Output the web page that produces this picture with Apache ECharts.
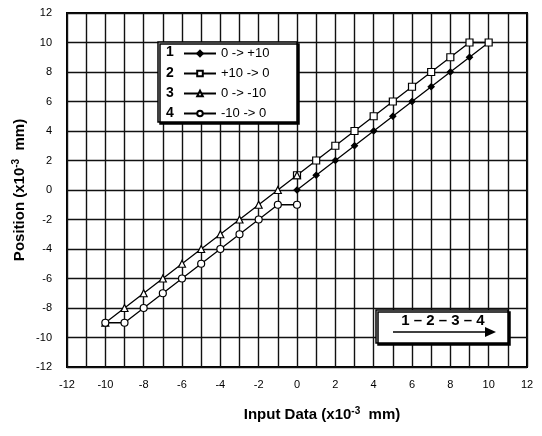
<!DOCTYPE html>
<html>
<head>
<meta charset="utf-8">
<script src="https://cdn.jsdelivr.net/npm/echarts@6/dist/echarts.min.js"></script>
<style>html,body{margin:0;padding:0;background:#fff}#c{width:542px;height:436px}</style>
</head>
<body>
<div id="c"></div>
<script>
// Data
const legendNames = ['0 -> +10', '+10 -> 0', '0 -> -10', '-10 -> 0'];
const s1 = [[0,0],[1,1],[2,2],[3,3],[4,4],[5,5],[6,6],[7,7],[8,8],[9,9],[10,10]];
const s2 = [[10,10],[9,10],[8,9],[7,8],[6,7],[5,6],[4,5],[3,4],[2,3],[1,2],[0,1]];
const s3 = [[0,1],[-1,0],[-2,-1],[-3,-2],[-4,-3],[-5,-4],[-6,-5],[-7,-6],[-8,-7],[-9,-8],[-10,-9]];
const s4 = [[-10,-9],[-9,-9],[-8,-8],[-7,-7],[-6,-6],[-5,-5],[-4,-4],[-3,-3],[-2,-2],[-1,-1],[0,-1]];
const axisMin = -12, axisMax = 12, axisStep = 2;

const FONT = "'Liberation Sans', Arial, sans-serif";
const chart = echarts.init(document.getElementById('c'), null, {renderer: 'canvas'});

function mk(name, data, symbol, size, filled) {
  return {
    name: name, type: 'line', data: data, symbol: symbol, symbolSize: size,
    showSymbol: true, animation: false, z: 6,
    lineStyle: {color: '#000', width: 1.3},
    itemStyle: {color: filled ? '#000' : '#fff', borderColor: '#000', borderWidth: 1.2}
  };
}

const gridLine = {show: true, lineStyle: {color: '#111', width: 1.4}};
const rowY = [52, 73, 93, 113];

chart.setOption({
  animation: false,
  backgroundColor: '#fff',
  grid: {left: 67, right: 15, top: 13, bottom: 69, show: true, borderColor: '#000', borderWidth: 2, backgroundColor: 'transparent'},
  xAxis: {
    type: 'value', min: axisMin, max: axisMax, interval: axisStep,
    axisLine: {show: false}, axisTick: {show: false},
    minorTick: {show: false, splitNumber: 2},
    minorSplitLine: {show: true, lineStyle: {color: '#111', width: 1.4}},
    splitLine: gridLine,
    axisLabel: {color: '#000', fontSize: 11, fontFamily: FONT, margin: 12}
  },
  yAxis: {
    type: 'value', min: axisMin, max: axisMax, interval: axisStep,
    axisLine: {show: false}, axisTick: {show: false},
    splitLine: gridLine,
    axisLabel: {color: '#000', fontSize: 11, fontFamily: FONT, margin: 15}
  },
  legend: {
    orient: 'vertical', left: 181, top: 45, itemGap: 7, itemWidth: 32, itemHeight: 7,
    padding: 2, z: 8,
    textStyle: {color: '#000', fontSize: 13, fontFamily: FONT},
    data: legendNames
  },
  series: [
    mk(legendNames[0], s1, 'diamond', 6, true),
    mk(legendNames[1], s2, 'rect', 7, false),
    mk(legendNames[2], s3, 'triangle', 7, false),
    mk(legendNames[3], s4, 'circle', 7, false)
  ],
  graphic: [
    {type: 'rect', z: 4, shape: {x: 158, y: 42, width: 139, height: 80},
     style: {fill: '#fff', stroke: '#000', lineWidth: 1.5, shadowColor: '#000', shadowOffsetX: 2, shadowOffsetY: 2, shadowBlur: 0}},
    {type: 'text', z: 9, x: 170, y: rowY[0], style: {text: '1', font: 'bold 14px ' + FONT, fill: '#000', align: 'center', verticalAlign: 'middle'}},
    {type: 'text', z: 9, x: 170, y: rowY[1], style: {text: '2', font: 'bold 14px ' + FONT, fill: '#000', align: 'center', verticalAlign: 'middle'}},
    {type: 'text', z: 9, x: 170, y: rowY[2], style: {text: '3', font: 'bold 14px ' + FONT, fill: '#000', align: 'center', verticalAlign: 'middle'}},
    {type: 'text', z: 9, x: 170, y: rowY[3], style: {text: '4', font: 'bold 14px ' + FONT, fill: '#000', align: 'center', verticalAlign: 'middle'}},
    {type: 'rect', z: 4, shape: {x: 376, y: 310, width: 132, height: 33},
     style: {fill: '#fff', stroke: '#000', lineWidth: 1.5, shadowColor: '#000', shadowOffsetX: 2, shadowOffsetY: 2, shadowBlur: 0}},
    {type: 'text', z: 9, x: 443, y: 321, style: {text: '1 \u2013 2 \u2013 3 \u2013 4', font: 'bold 15px ' + FONT, fill: '#000', align: 'center', verticalAlign: 'middle'}},
    {type: 'line', z: 9, shape: {x1: 393, y1: 332, x2: 490, y2: 332}, style: {stroke: '#000', lineWidth: 1.5}},
    {type: 'polygon', z: 9, shape: {points: [[496, 332], [485, 327], [485, 337]]}, style: {fill: '#000'}},
    {type: 'text', z: 9, x: 322, y: 415,
     style: {text: '{a|Input Data (x10}{s|-3}{a|  mm)}', align: 'center', verticalAlign: 'middle', fill: '#000',
       rich: {a: {font: 'bold 15px ' + FONT, fill: '#000', lineHeight: 18}, s: {font: 'bold 10px ' + FONT, fill: '#000', verticalAlign: 'top', lineHeight: 18, padding: [0, 0, 8, 0]}}}},
    {type: 'text', z: 9, x: 20, y: 190, rotation: Math.PI / 2,
     style: {text: '{a|Position (x10}{s|-3}{a|  mm)}', align: 'center', verticalAlign: 'middle', fill: '#000',
       rich: {a: {font: 'bold 15px ' + FONT, fill: '#000', lineHeight: 18}, s: {font: 'bold 10px ' + FONT, fill: '#000', verticalAlign: 'top', lineHeight: 18, padding: [0, 0, 8, 0]}}}}
  ]
});
</script>
</body>
</html>
